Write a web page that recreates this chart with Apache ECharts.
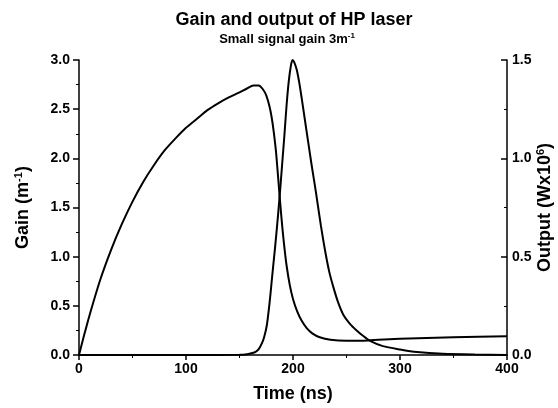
<!DOCTYPE html>
<html>
<head>
<meta charset="utf-8">
<script src="https://cdn.jsdelivr.net/npm/echarts@6/dist/echarts.min.js"></script>
<style>html,body{margin:0;padding:0;background:#fff}#c{width:558px;height:408px}</style>
</head>
<body>
<div id="c"></div>
<script>
const gainTime = [0, 5, 10, 20, 30, 40, 50, 60, 70, 80, 90, 100, 110, 120, 130, 140, 150, 157, 163, 168, 172, 175, 178, 180, 182, 184, 186, 188, 190, 192, 194, 197, 200, 204, 208, 213, 218, 225, 235, 250, 270, 300, 350, 400];
const gainValue = [0, 0.21, 0.41, 0.77, 1.07, 1.33, 1.56, 1.76, 1.93, 2.08, 2.20, 2.31, 2.40, 2.49, 2.56, 2.62, 2.67, 2.71, 2.74, 2.74, 2.70, 2.64, 2.53, 2.42, 2.27, 2.08, 1.82, 1.55, 1.30, 1.09, 0.91, 0.71, 0.57, 0.44, 0.35, 0.27, 0.22, 0.18, 0.155, 0.145, 0.148, 0.165, 0.18, 0.19];
const outTime = [0, 100, 150, 157, 162, 165, 168, 171, 173, 175.5, 178, 180, 182, 184, 186, 188, 190, 192, 194, 196, 198, 199.5, 201, 203.5, 206, 208, 211, 214, 217, 220.5, 223, 226, 230, 234, 238, 242, 247, 253, 259.5, 266, 272, 284, 300, 316, 340, 370, 400];
const outValue = [0, 0, 0.001, 0.004, 0.01, 0.016, 0.03, 0.06, 0.09, 0.15, 0.26, 0.37, 0.48, 0.59, 0.71, 0.84, 0.98, 1.12, 1.27, 1.39, 1.47, 1.50, 1.49, 1.45, 1.38, 1.31, 1.20, 1.09, 0.98, 0.86, 0.77, 0.66, 0.53, 0.42, 0.34, 0.27, 0.205, 0.16, 0.125, 0.095, 0.072, 0.045, 0.028, 0.015, 0.006, 0.002, 0];

const gainData = gainTime.map((t, i) => [t, gainValue[i]]);
const outData = outTime.map((t, i) => [t, outValue[i]]);

const font = 'Liberation Sans, Arial, sans-serif';
const chart = echarts.init(document.getElementById('c'), null, {renderer: 'canvas'});
chart.setOption({
  animation: false,
  backgroundColor: '#fff',
  title: [
    {text: 'Gain and output of HP laser', left: 289, top: 6, textAlign: 'center',
     textStyle: {fontFamily: font, fontWeight: 'bold', fontSize: 18, color: '#000'}},
    {text: '{a|Small signal gain 3m}{s|-1}', left: 282, top: 27, textAlign: 'center',
     textStyle: {rich: {
       a: {fontFamily: font, fontWeight: 'bold', fontSize: 13, color: '#000'},
       s: {fontFamily: font, fontWeight: 'bold', fontSize: 8, color: '#000', verticalAlign: 'top', padding: [0,0,7,0]}
     }}}
  ],
  grid: {left: 79, right: 51, top: 60, bottom: 53, outerBoundsMode: 'none', containLabel: false},
  xAxis: {
    type: 'value', min: 0, max: 400, interval: 100,
    name: 'Time (ns)', nameLocation: 'middle', nameGap: 30,
    nameTextStyle: {fontFamily: font, fontWeight: 'bold', fontSize: 18, color: '#000'},
    axisLine: {lineStyle: {color: '#000', width: 1.5}},
    axisTick: {inside: false, length: 5, lineStyle: {color: '#000', width: 1.5}},
    minorTick: {show: true, splitNumber: 2, length: 3, lineStyle: {color: '#000'}},
    axisLabel: {fontFamily: font, fontWeight: 'bold', fontSize: 14, color: '#000', margin: 7},
    splitLine: {show: false}
  },
  yAxis: [
    {
      type: 'value', min: 0, max: 3, interval: 0.5, position: 'left',
      name: '{a|Gain (m}{s|-1}{a|)}', nameLocation: 'middle', nameGap: 46, nameRotate: 90,
      nameTextStyle: {rich: {
        a: {fontFamily: font, fontWeight: 'bold', fontSize: 18, color: '#000'},
        s: {fontFamily: font, fontWeight: 'bold', fontSize: 11, color: '#000', verticalAlign: 'top', padding: [0,0,9,0]}
      }},
      axisLine: {show: true, lineStyle: {color: '#000', width: 1.5}},
      axisTick: {show: true, inside: false, length: 6, lineStyle: {color: '#000', width: 1.5}},
      minorTick: {show: true, splitNumber: 2, length: 3, lineStyle: {color: '#000'}},
      axisLabel: {fontFamily: font, fontWeight: 'bold', fontSize: 14, color: '#000', margin: 9,
        formatter: v => v.toFixed(1)},
      splitLine: {show: false}
    },
    {
      type: 'value', min: 0, max: 1.5, interval: 0.5, position: 'right',
      name: '{a|Output (Wx10}{s|6}{a|)}', nameLocation: 'middle', nameGap: 28, nameRotate: 90,
      nameMoveOverlap: false,
      nameTextStyle: {rich: {
        a: {fontFamily: font, fontWeight: 'bold', fontSize: 18, color: '#000'},
        s: {fontFamily: font, fontWeight: 'bold', fontSize: 11, color: '#000', verticalAlign: 'top', padding: [0,0,9,0]}
      }},
      axisLine: {show: true, lineStyle: {color: '#000', width: 1.5}},
      axisTick: {show: true, inside: true, length: 6, lineStyle: {color: '#000', width: 1.5}},
      minorTick: {show: true, splitNumber: 2, length: 3, lineStyle: {color: '#000'}},
      axisLabel: {fontFamily: font, fontWeight: 'bold', fontSize: 14, color: '#000', margin: 5,
        formatter: v => v.toFixed(1)},
      splitLine: {show: false}
    }
  ],
  series: [
    {type: 'line', name: 'Gain', yAxisIndex: 0, data: gainData, smooth: 0.25, showSymbol: false,
     lineStyle: {color: '#000', width: 2}},
    {type: 'line', name: 'Output', yAxisIndex: 1, data: outData, smooth: 0.25, showSymbol: false,
     lineStyle: {color: '#000', width: 2}}
  ]
});
</script>
</body>
</html>
